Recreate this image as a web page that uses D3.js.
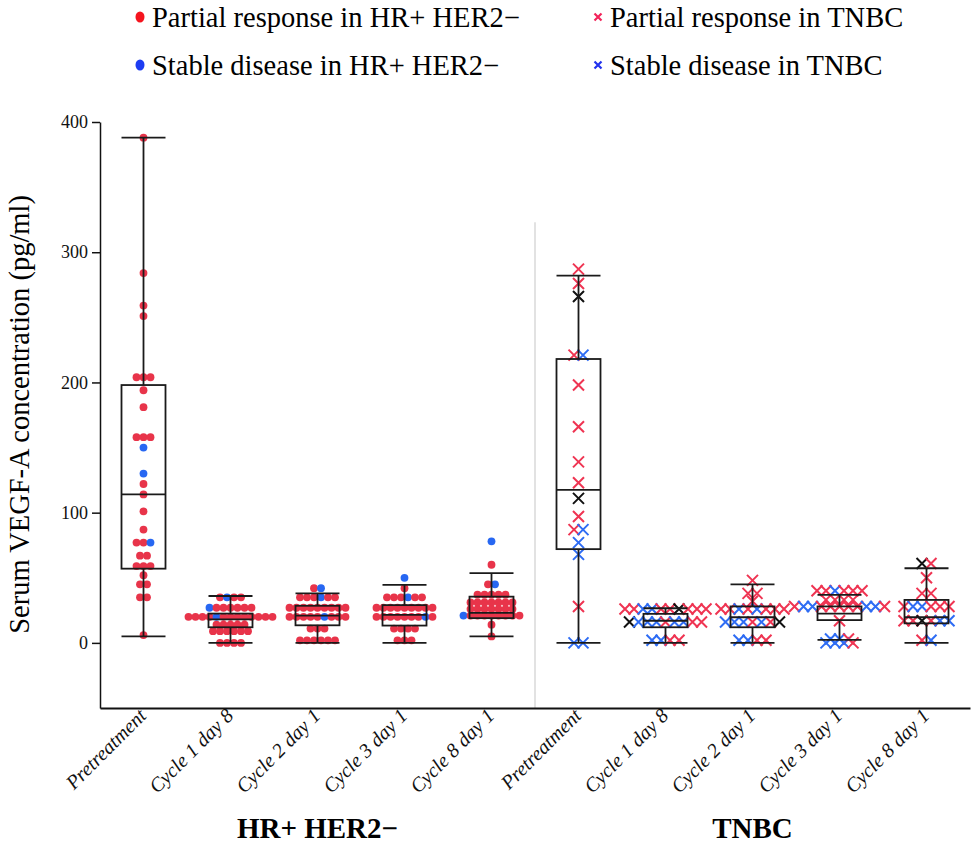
<!DOCTYPE html>
<html>
<head>
<meta charset="utf-8">
<script src="https://cdn.jsdelivr.net/npm/d3@7/dist/d3.min.js"></script>
<style>
  body { margin: 0; background: #fff; }
  svg { display: block; }
</style>
</head>
<body>
<svg id="chart"></svg>
<script>
// categories
const timepoints = ["Pretreatment", "Cycle 1 day 8", "Cycle 2 day 1", "Cycle 3 day 1", "Cycle 8 day 1"];
const cohorts = ["HR+ HER2−", "TNBC"];
const yTicks = [0, 100, 200, 300, 400];

// each row: [value, codes left->right]  P = partial response, S = stable disease, X = other
const hrPoints = [
  [[388,"P"],[284,"P"],[259,"P"],[251,"P"],[204,"PPP"],[194,"P"],[181,"P"],[158,"PPP"],[150,"S"],
   [130,"S"],[122,"P"],[114,"P"],[101,"P"],[87,"P"],[77,"PPS"],[67,"PP"],[59,"PPP"],[52,"P"],
   [45,"PP"],[35,"PP"],[6,"P"]],
  [[35,"PSPP"],[27,"SPPPPPP"],[20,"PPPPSPPPPPPPP"],[14,"PPPPP"],[9,"PPPPPP"],[0,"PPPP"]],
  [[42,"PS"],[35,"PPPSPP"],[27,"PPPPPPPPP"],[20,"PPPPPSPPP"],[11,"PPP"],[2,"PPPPPP"]],
  [[50,"S"],[42,"P"],[35,"PPPSPP"],[27,"PPPPPPPPP"],[20,"PPPPPPPSP"],[11,"PPPP"],[2,"PPP"]],
  [[78,"S"],[60,"P"],[45,"PS"],[37,"PPPPP"],[31,"PPPPPPP"],[26,"PPPPPPP"],[21,"SPPPPPPPP"],[14,"P"],[5,"P"]]
];
const tnbcPoints = [
  [[287,"P"],[276,"P"],[266,"X"],[221,"PS"],[198,"P"],[166,"P"],[139,"P"],[123,"P"],[111,"X"],
   [97,"P"],[87,"PS"],[77,"S"],[68,"S"],[28,"P"],[0,"SS"]],
  [[26,"PPSSPPXPPP"],[16,"XSSSPSSPP"],[2,"SSPP"]],
  [[48,"P"],[38,"PP"],[32,"P"],[26,"PPSPSPPP"],[16,"SSSPSPX"],[2,"SSPP"]],
  [[40,"PPSPPP"],[33,"PPPP"],[28,"PSSPPPPPSSP"],[17,"P"],[3,"SSP"],[0,"SSSP"]],
  [[61,"XP"],[50,"P"],[38,"PP"],[28,"PSSPPP"],[17,"PPXPSS"],[2,"PS"]]
];

// box stats: [min, q1, median, q3, max]
const hrBoxes = [[5,57,114,198,388],[0,12,18,22.5,36],[0,13.5,21,28.5,38],[0,13.3,21.5,29,44.5],[5,19,23,35.5,53.5]];
const tnbcBoxes = [[0,72,117.5,218,282],[0,12,17,22.3,26.6],[0,12,19.7,28,45],[2.3,17.5,22.5,28,36.8],[0,15,19.7,33,57.3]];

const legendItems = [
  {label: "Partial response in HR+ HER2−", code: "P", shape: "dot"},
  {label: "Stable disease in HR+ HER2−", code: "S", shape: "dot"},
  {label: "Partial response in TNBC", code: "P", shape: "cross"},
  {label: "Stable disease in TNBC", code: "S", shape: "cross"}
];

const width = 974, height = 845;
const margin = {top: 122, right: 4, bottom: 137, left: 100};
const serif = "'Liberation Serif', 'Times New Roman', Times, serif";

const dotColor = {P: "#e8344a", S: "#2767f2", X: "#111"};
const crossColor = {P: "#ef3452", S: "#2e6cf4", X: "#111"};
const legendDot = {P: "#f5141e", S: "#1d3cf2"};
const legendCross = {P: "#f2245a", S: "#2233ee"};

const svg = d3.select("#chart")
  .attr("width", width)
  .attr("height", height)
  .style("font-family", serif);

const x = d3.scaleBand()
  .domain(d3.range(10))
  .range([margin.left, width - margin.right]);

const y = d3.scaleLinear()
  .domain([-50, 400])
  .range([height - margin.bottom, margin.top]);

// separator between cohorts
svg.append("line")
  .attr("x1", x(5)).attr("x2", x(5))
  .attr("y1", y(323)).attr("y2", y(-50))
  .attr("stroke", "#d9d9d9")
  .attr("stroke-width", 1.5);

// points
const dotStep = 7, crossStep = 9;
const marks = svg.append("g");

hrPoints.forEach((rows, t) => {
  const cx = x(t) + x.bandwidth() / 2;
  rows.forEach(([v, codes]) => {
    const n = codes.length;
    codes.split("").forEach((c, i) => {
      marks.append("circle")
        .attr("cx", cx + (i - (n - 1) / 2) * dotStep)
        .attr("cy", y(v))
        .attr("r", 3.9)
        .attr("fill", dotColor[c]);
    });
  });
});

const crossPath = s => `M${-s},${-s}L${s},${s}M${-s},${s}L${s},${-s}`;

tnbcPoints.forEach((rows, t) => {
  const cx = x(t + 5) + x.bandwidth() / 2;
  rows.forEach(([v, codes]) => {
    const n = codes.length;
    codes.split("").forEach((c, i) => {
      marks.append("path")
        .attr("transform", `translate(${cx + (i - (n - 1) / 2) * crossStep},${y(v)})`)
        .attr("d", crossPath(5.5))
        .attr("fill", "none")
        .attr("stroke", crossColor[c])
        .attr("stroke-width", 2);
    });
  });
});

// box plots
const boxW = 44;
const boxes = hrBoxes.concat(tnbcBoxes);
const bg = svg.append("g")
  .attr("stroke", "#1a1a1a")
  .attr("stroke-width", 1.8)
  .attr("fill", "none");

boxes.forEach((b, i) => {
  const cx = x(i) + x.bandwidth() / 2;
  const [mn, q1, md, q3, mx] = b;
  const g = bg.append("g");
  g.append("line").attr("x1", cx).attr("x2", cx).attr("y1", y(mx)).attr("y2", y(q3));
  g.append("line").attr("x1", cx).attr("x2", cx).attr("y1", y(q1)).attr("y2", y(mn));
  g.append("line").attr("x1", cx - boxW / 2).attr("x2", cx + boxW / 2).attr("y1", y(mx)).attr("y2", y(mx));
  g.append("line").attr("x1", cx - boxW / 2).attr("x2", cx + boxW / 2).attr("y1", y(mn)).attr("y2", y(mn));
  g.append("rect")
    .attr("x", cx - boxW / 2).attr("y", y(q3))
    .attr("width", boxW).attr("height", y(q1) - y(q3));
  g.append("line").attr("x1", cx - boxW / 2).attr("x2", cx + boxW / 2).attr("y1", y(md)).attr("y2", y(md));
});

// y axis
const yAxis = svg.append("g")
  .attr("transform", `translate(${margin.left},0)`)
  .call(d3.axisLeft(y).tickValues(yTicks).tickSize(8).tickSizeOuter(0).tickPadding(4));
yAxis.selectAll("text")
  .attr("font-family", serif)
  .attr("font-size", 18)
  .attr("fill", "#111");
yAxis.selectAll("line, path").attr("stroke", "#111").attr("stroke-width", 1.5);

// x axis
const xAxis = svg.append("g")
  .attr("transform", `translate(0,${y(-50)})`)
  .call(d3.axisBottom(x).tickSize(0).tickSizeOuter(0).tickFormat(i => timepoints[i % 5]));
xAxis.select(".domain").attr("stroke", "#111").attr("stroke-width", 1.8);
xAxis.selectAll("text")
  .attr("font-family", serif)
  .attr("font-style", "italic")
  .attr("font-size", 20)
  .attr("fill", "#111")
  .attr("text-anchor", "end")
  .attr("dy", 0)
  .attr("y", 0)
  .attr("transform", "translate(4,9) rotate(-45)");

// cohort labels
cohorts.forEach((c, k) => {
  svg.append("text")
    .attr("x", (x(k * 5) + x(k * 5 + 4) + x.bandwidth()) / 2)
    .attr("y", 838)
    .attr("text-anchor", "middle")
    .attr("font-weight", "bold")
    .attr("font-size", 29)
    .attr("fill", "#000")
    .text(c);
});

// y title
svg.append("text")
  .attr("transform", `translate(29,${(y(400) + y(0)) / 2 + 32}) rotate(-90)`)
  .attr("text-anchor", "middle")
  .attr("font-size", 28.5)
  .attr("fill", "#000")
  .text("Serum VEGF-A concentration (pg/ml)");

// legend
const legend = svg.append("g");
legendItems.forEach((d, i) => {
  const lx = i < 2 ? 140 : 598;
  const ly = 17 + (i % 2) * 48;
  if (d.shape === "dot") {
    legend.append("ellipse")
      .attr("cx", lx).attr("cy", ly).attr("rx", 4.5).attr("ry", 5.5)
      .attr("fill", legendDot[d.code]);
  } else {
    legend.append("path")
      .attr("transform", `translate(${lx},${ly})`)
      .attr("d", crossPath(3.5))
      .attr("stroke", legendCross[d.code])
      .attr("stroke-width", 2.2);
  }
  legend.append("text")
    .attr("x", lx + 12).attr("y", ly + 10)
    .attr("font-size", 28.5)
    .attr("fill", "#000")
    .text(d.label);
});
</script>
</body>
</html>
